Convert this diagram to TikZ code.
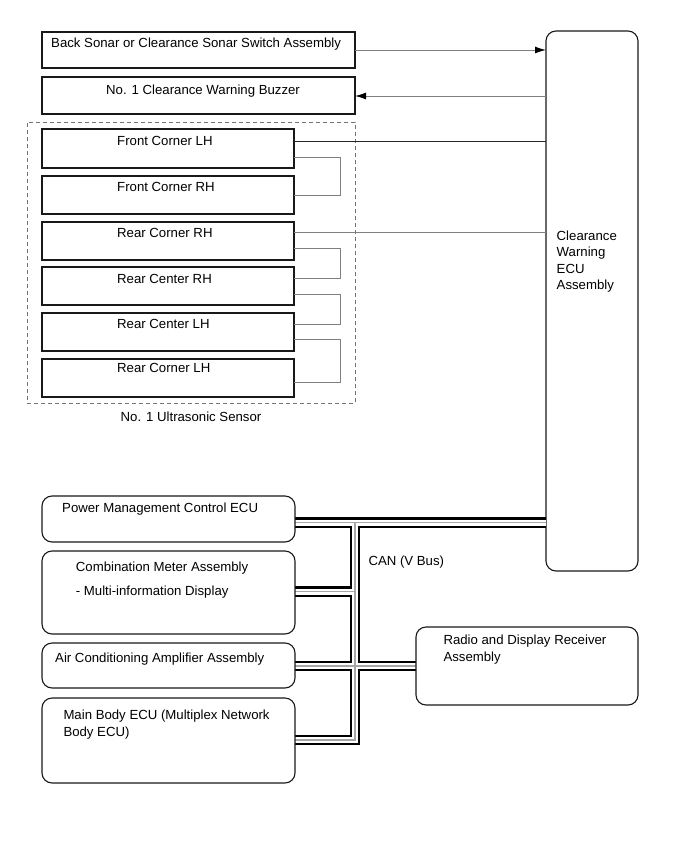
\documentclass[tikz,border=0pt]{standalone}
\usepackage{fontspec}
\setmainfont{Liberation Sans}
\usetikzlibrary{arrows.meta}
\begin{document}
\begin{tikzpicture}[x=1pt,y=-1pt,
  sq/.style={draw=black!90, line width=1.1pt, inner sep=0pt, outer sep=0pt, anchor=north west},
  rbox/.style={sq, rounded corners=10pt},
  txt/.style={inner sep=0pt, anchor=base west, font=\fontsize{13.2}{16}\selectfont},
  ctxt/.style={txt, anchor=base},
  wire/.style={draw=black!50, line width=1pt},
  dwire/.style={draw=black!85, line width=1pt},
  tipend/.style={-{Latex[length=11pt,width=7pt,color=black]}},
  busO/.style={line width=10.5pt, draw=black, line join=miter},
  busW/.style={line width=6pt, draw=white, line join=miter},
  busC/.style={line width=1.3pt, draw=black!35, line join=miter},
]
\fill[white] (0,0) rectangle (690,854);
\useasboundingbox (0,0) rectangle (690,854);

% ---------- boxes ----------
\node[sq, minimum width=313pt, minimum height=36pt] (bs) at (42,32) {};
\node[sq, minimum width=313pt, minimum height=37pt] (bz) at (42,77) {};
\node[draw=black!55, line width=0.9pt, dash pattern=on 4pt off 3pt, inner sep=0pt, anchor=north west,
      minimum width=328pt, minimum height=281pt] (grp) at (27,122) {};
\node[sq, minimum width=252pt, minimum height=39pt] (fcl) at (42,129) {};
\node[sq, minimum width=252pt, minimum height=38pt] (fcr) at (42,176) {};
\node[sq, minimum width=252pt, minimum height=38pt] (rcr) at (42,222) {};
\node[sq, minimum width=252pt, minimum height=38pt] (rcer) at (42,267) {};
\node[sq, minimum width=252pt, minimum height=38pt] (rcel) at (42,313) {};
\node[sq, minimum width=252pt, minimum height=38pt] (rcl) at (42,359) {};

\node[rbox, minimum width=92pt, minimum height=540pt] (ecu) at (546,31) {};

% ---------- CAN bus ----------
\foreach \s in {busO,busW,busC} {
  \draw[\s] (295,522.5) -- (ecu.west |- 0,522.5);
  \draw[\s] (355,522.5) -- (355,740) -- (295,740);
  \draw[\s] (295,591.5) -- (355,591.5);
  \draw[\s] (295,666) -- (416,666);
}

\node[rbox, minimum width=253pt, minimum height=46pt] (pmc) at (42,496) {};
\node[rbox, minimum width=253pt, minimum height=83pt] (cmb) at (42,551) {};
\node[rbox, minimum width=253pt, minimum height=45pt] (air) at (42,643) {};
\node[rbox, minimum width=253pt, minimum height=85pt] (mb) at (42,698) {};
\node[rbox, minimum width=222pt, minimum height=78pt] (rad) at (416,627) {};

% ---------- texts ----------
\node[txt] at (51,47.8) {Back Sonar or Clearance Sonar Switch Assembly};
\node[txt] at (106,94.5) {No. 1 Clearance Warning Buzzer};
\node[txt] at (117,145.2) {Front Corner LH};
\node[txt] at (117,191.2) {Front Corner RH};
\node[txt] at (117,237.8) {Rear Corner RH};
\node[txt] at (117,283.5) {Rear Center RH};
\node[txt] at (117,328.5) {Rear Center LH};
\node[txt] at (117,372.8) {Rear Corner LH};
\node[ctxt] at (191,421.5) {No. 1 Ultrasonic Sensor};

\node[txt] at (556.5,240.5) {Clearance};
\node[txt] at (556.5,256.8) {Warning};
\node[txt] at (556.5,273) {ECU};
\node[txt] at (556.5,289.3) {Assembly};

\node[txt] at (62,512.2) {Power Management Control ECU};
\node[txt] at (75.7,571.2) {Combination Meter Assembly};
\node[txt] at (75.7,595.5) {- Multi-information Display};
\node[txt] at (55,662.8) {Air Conditioning Amplifier Assembly};
\node[txt] at (63.3,719.5) {Main Body ECU (Multiplex Network};
\node[txt] at (63.3,736) {Body ECU)};
\node[txt] at (443.3,644.5) {Radio and Display Receiver};
\node[txt] at (443.3,661) {Assembly};
\node[txt] at (368.3,565.5) {CAN (V Bus)};

% ---------- connectors ----------
\draw[wire, tipend] (bs.east |- 0,50) -- (ecu.west |- 0,50);
\draw[wire, tipend] (ecu.west |- 0,96) -- (bz.east |- 0,96);
\draw[dwire] (fcl.east |- 0,141) -- (ecu.west |- 0,141);
\draw[wire] (rcr.east |- 0,232) -- (ecu.west |- 0,232);

\draw[wire] (fcl.east |- 0,157) -- (340,157) -- (340,195) -- (fcr.east |- 0,195);
\draw[wire] (rcr.east |- 0,248) -- (340,248) -- (340,278) -- (rcer.east |- 0,278);
\draw[wire] (rcer.east |- 0,294) -- (340,294) -- (340,324) -- (rcel.east |- 0,324);
\draw[wire] (rcel.east |- 0,339) -- (340,339) -- (340,382) -- (rcl.east |- 0,382);
\end{tikzpicture}
\end{document}
